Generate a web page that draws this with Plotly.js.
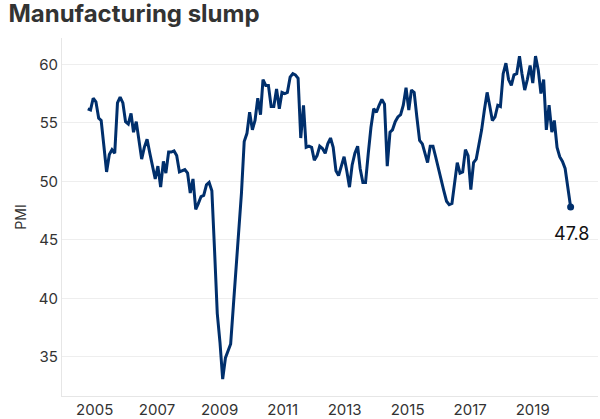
<!DOCTYPE html>
<html>
<head>
<meta charset="utf-8">
<script src="https://cdn.plot.ly/plotly-3.0.1.min.js"></script>
<style>
  html, body { margin: 0; padding: 0; background: #fff; }
  #chart { width: 600px; height: 419px; }
</style>
</head>
<body>
<div id="chart"></div>
<script>
// ISM manufacturing PMI, monthly, Oct 2004 - Sep 2019
const startYear = 2004;
const startMonth = 10; // October
const pmi2004 = [56.2, 56.1, 57.1];
const pmi2005 = [56.8, 55.4, 55.2, 53.0, 50.8, 52.3, 52.7, 52.4, 56.7, 57.2, 56.7, 55.1];
const pmi2006 = [54.9, 55.8, 54.2, 55.1, 53.4, 51.9, 52.9, 53.6, 52.4, 51.4, 50.2, 51.3];
const pmi2007 = [49.5, 51.7, 50.7, 52.5, 52.5, 52.6, 52.2, 50.8, 50.9, 51.0, 50.7, 49.0];
const pmi2008 = [50.2, 47.6, 48.1, 48.7, 48.8, 49.7, 49.9, 49.2, 44.0, 38.7, 36.2, 33.1];
const pmi2009 = [34.9, 35.5, 36.1, 39.4, 42.6, 45.1, 49.0, 53.4, 54.1, 55.9, 54.4, 55.2];
const pmi2010 = [57.1, 55.7, 58.7, 58.2, 58.2, 56.4, 56.4, 57.9, 56.2, 57.6, 57.5, 57.6];
const pmi2011 = [58.9, 59.2, 59.1, 58.8, 53.7, 56.5, 52.9, 53.0, 52.9, 51.8, 52.2, 53.0];
const pmi2012 = [52.8, 52.4, 53.2, 53.7, 52.9, 50.9, 50.5, 51.3, 52.1, 50.9, 49.5, 51.4];
const pmi2013 = [52.4, 53.0, 51.1, 49.9, 49.9, 52.4, 54.6, 56.2, 55.9, 56.5, 57.0, 56.6];
const pmi2014 = [51.3, 54.2, 54.4, 55.1, 55.5, 55.7, 56.5, 58.0, 56.1, 57.8, 57.6, 55.5];
const pmi2015 = [53.5, 53.2, 52.4, 51.6, 53.0, 53.0, 52.1, 51.1, 49.9, 49.2, 48.3, 48.0];
const pmi2016 = [48.1, 49.7, 51.6, 50.7, 50.8, 52.7, 52.2, 49.3, 51.6, 51.9, 53.2, 54.4];
const pmi2017 = [56.1, 57.6, 56.5, 55.2, 55.5, 56.5, 56.4, 59.2, 60.1, 58.7, 58.2, 59.1];
const pmi2018 = [59.2, 60.7, 59.2, 57.8, 58.7, 59.9, 58.4, 60.7, 59.5, 57.5, 58.7, 54.4];
const pmi2019 = [56.5, 54.2, 55.2, 52.9, 52.1, 51.7, 51.1, 49.2, 47.8];

// x-axis tick labels (as shown in the reference) and where they sit
const tickLabels = ['2005', '2007', '2009', '2011', '2013', '2015', '2017', '2019'];
const tickDates = ['2004-12-18', '2006-11-21', '2008-10-28', '2010-10-09',
                   '2012-09-07', '2014-08-19', '2016-07-25', '2018-06-30'];

const yTicks = [35, 40, 45, 50, 55, 60];

const pmi = [].concat(pmi2004, pmi2005, pmi2006, pmi2007, pmi2008, pmi2009, pmi2010,
  pmi2011, pmi2012, pmi2013, pmi2014, pmi2015, pmi2016, pmi2017, pmi2018, pmi2019);

const dates = pmi.map((_, i) => {
  const m0 = startMonth - 1 + i;
  const y = startYear + Math.floor(m0 / 12);
  const m = (m0 % 12) + 1;
  return y + '-' + String(m).padStart(2, '0') + '-01';
});

const lastX = dates[dates.length - 1];
const lastY = pmi[pmi.length - 1];

const NAVY = '#002f6c';
const FONT = 'Inter, "Open Sans", Arial, sans-serif';

const traces = [
  {
    type: 'scatter', mode: 'lines', x: dates, y: pmi,
    line: { color: NAVY, width: 3 }, hoverinfo: 'skip'
  },
  {
    type: 'scatter', mode: 'markers', x: [lastX], y: [lastY],
    marker: { color: NAVY, size: 7 }, hoverinfo: 'skip'
  }
];

const layout = {
  width: 600, height: 419,
  margin: { l: 62, r: 2, t: 38, b: 23, pad: 0 },
  paper_bgcolor: '#ffffff', plot_bgcolor: '#ffffff',
  showlegend: false,
  font: { family: FONT, color: '#333333', size: 15 },
  title: {
    text: 'Manufacturing slump',
    font: { family: FONT, size: 24, color: '#333333', weight: 700 },
    xref: 'container', x: 0.014, xanchor: 'left',
    yref: 'container', y: 0.967, yanchor: 'middle'
  },
  xaxis: {
    type: 'date',
    range: ['2003-12-15', '2020-07-06'],
    tickmode: 'array', tickvals: tickDates, ticktext: tickLabels,
    showgrid: false, zeroline: false,
    showline: true, linecolor: '#e6e6e6', linewidth: 1,
    ticks: '', tickfont: { size: 15, color: '#333333' }
  },
  yaxis: {
    range: [31.65, 62.25],
    tickmode: 'array', tickvals: yTicks,
    showgrid: true, gridcolor: '#eeeeee', gridwidth: 1,
    zeroline: false,
    showline: true, linecolor: '#e6e6e6', linewidth: 1,
    ticks: '', tickfont: { size: 15, color: '#333333' },
    title: { text: 'PMI', font: { size: 14, color: '#333333' }, standoff: 8 }
  },
  annotations: [{
    x: lastX, y: lastY, xref: 'x', yref: 'y',
    text: String(lastY), showarrow: false,
    xshift: 1, yshift: -26,
    font: { family: FONT, size: 18, color: '#111111' }
  }]
};

Plotly.newPlot('chart', traces, layout, { staticPlot: true, displayModeBar: false });
</script>
</body>
</html>
